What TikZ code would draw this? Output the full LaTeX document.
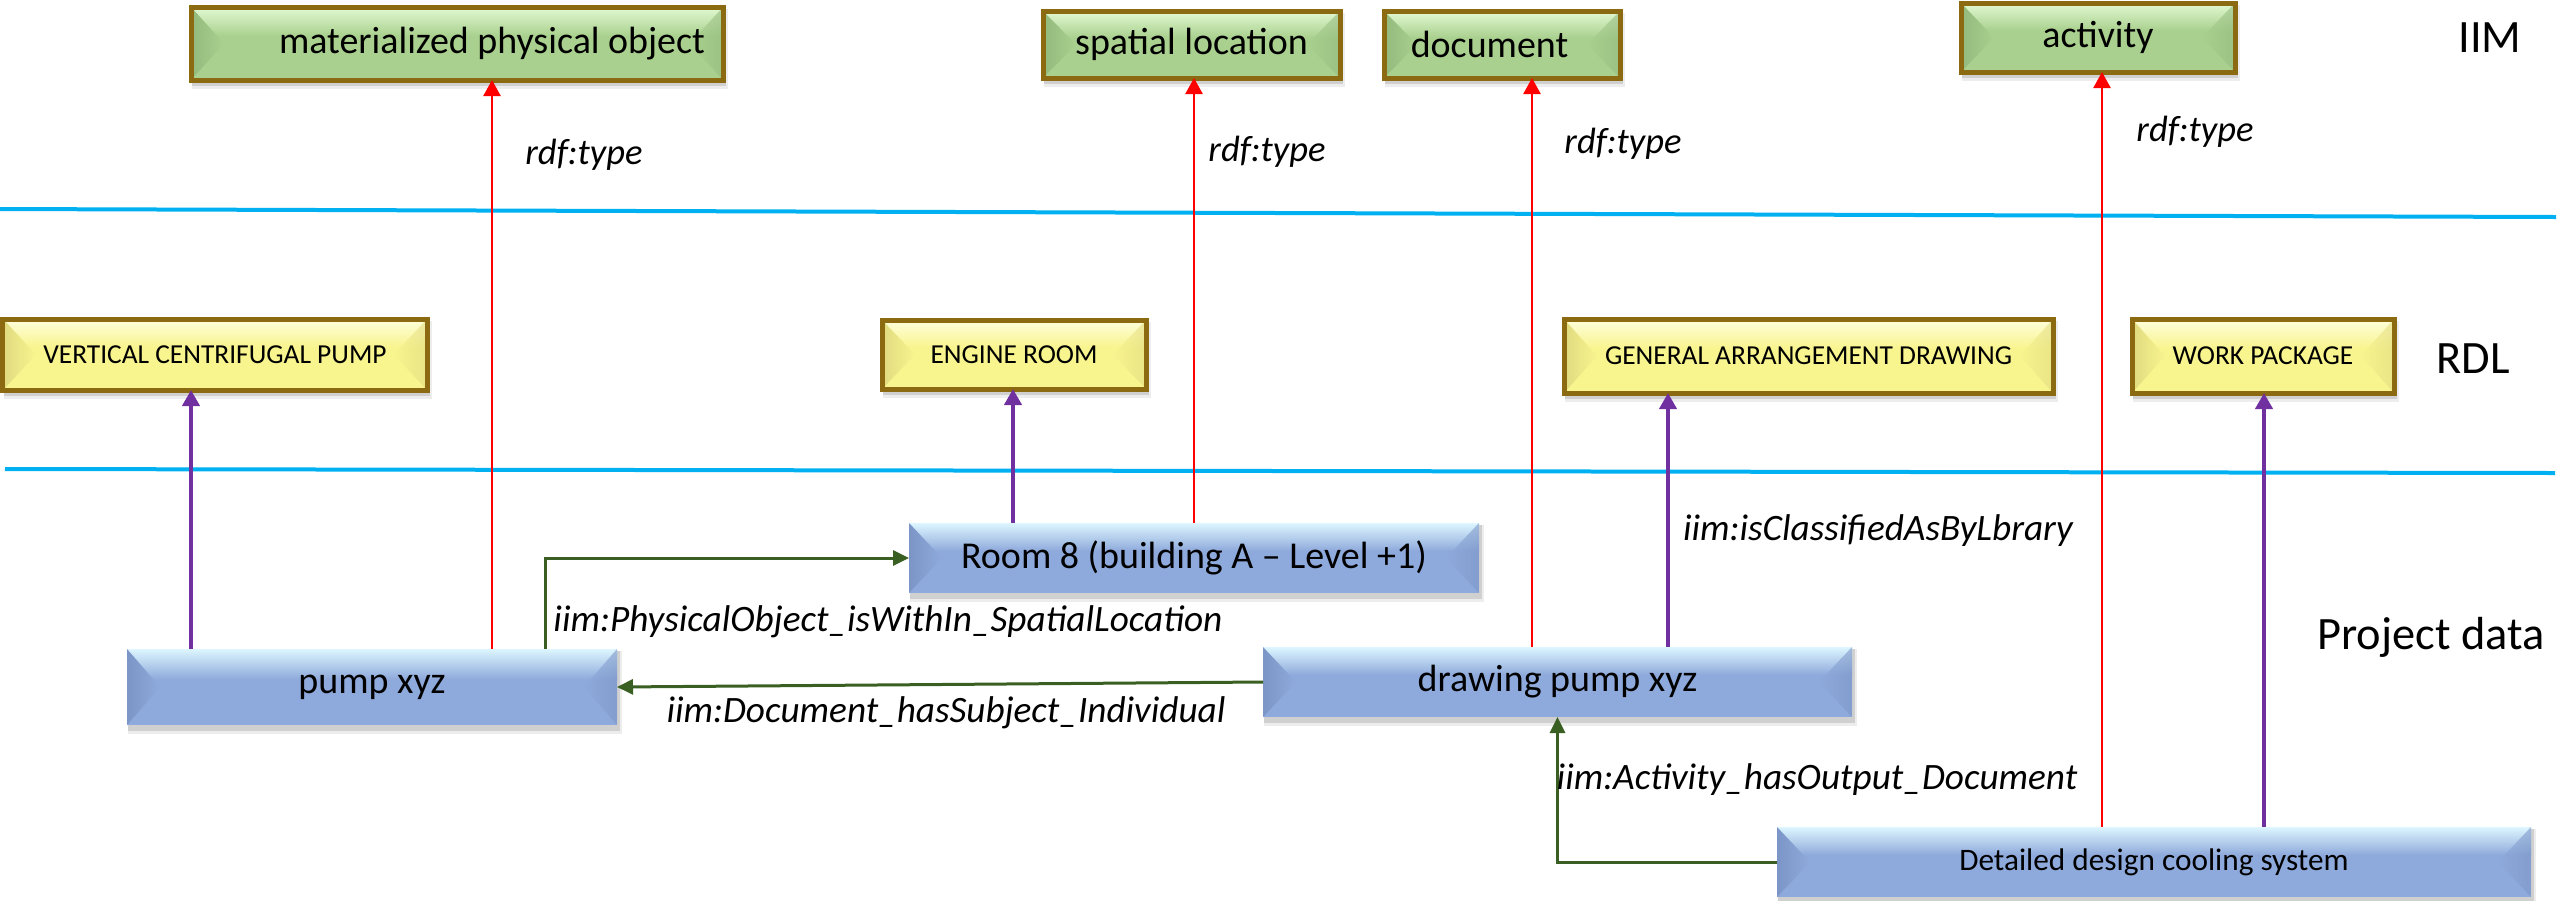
\documentclass[tikz,border=0pt]{standalone}
\usepackage{fontspec}
\setmainfont{Carlito}
\usetikzlibrary{arrows.meta,calc}

\definecolor{sepblue}{HTML}{00B0F0}
\definecolor{relred}{HTML}{FF0000}
\definecolor{relpurple}{HTML}{7030A0}
\definecolor{relgreen}{HTML}{3A5F22}
\definecolor{goldrim}{HTML}{8C6A12}
\definecolor{grnbase}{HTML}{A9D08E}
\definecolor{grnlight}{HTML}{E2F9D2}
\definecolor{grndark}{HTML}{93B97D}
\definecolor{ylwbase}{HTML}{F8F48E}
\definecolor{ylwlight}{HTML}{FFFFDC}
\definecolor{ylwdark}{HTML}{E0DA80}
\definecolor{blubase}{HTML}{8EA9DB}
\definecolor{blulight}{HTML}{DDF6FF}
\definecolor{bludark}{HTML}{7B96C6}

\pgfdeclarelayer{background}
\pgfsetlayers{background,main}

% bevelled face of a box, drawn behind the text node #1
\newcommand\bevelface[4]{%
  \fill[black, opacity=0.07] ([shift={(0.01,-0.02)}]#1.north west) rectangle ([shift={(0.05,-0.09)}]#1.south east);
  \fill[black, opacity=0.12] ([shift={(0.01,-0.02)}]#1.north west) rectangle ([shift={(0.03,-0.06)}]#1.south east);
  \fill[#3] (#1.south west) rectangle (#1.north east);
  \shade[top color=#2, bottom color=#3] (#1.north west) rectangle ($(#1.east)!0.2!(#1.north east)$);
  \shade[left color=#4, right color=#3] (#1.north west) -- ([xshift=0.33cm]#1.west) -- (#1.south west) -- cycle;
  \shade[left color=#3, right color=#4, opacity=0.6] (#1.north east) -- ([xshift=-0.33cm]#1.east) -- (#1.south east) -- cycle;
}
\newcommand\goldrim[1]{%
  \draw[goldrim, line width=0.05cm] (#1.south west) rectangle (#1.north east);
}

\tikzset{
  boxbase/.style={rectangle, inner sep=0pt, outer sep=0pt, text=black},
  classbox/.style={boxbase, font=\fontsize{10.8}{12}\selectfont},
  rdlbox/.style={boxbase, font=\fontsize{7.8}{10}\selectfont},
  databox/.style={boxbase, font=\fontsize{10.8}{12}\selectfont},
  rellabel/.style={inner sep=0pt, font=\fontsize{10.6}{12}\selectfont\itshape},
  layerlabel/.style={inner sep=0pt, font=\fontsize{13.2}{15}\selectfont},
  separator/.style={draw=sepblue, line width=0.04cm},
  typearrow/.style={draw=relred, line width=0.025cm,
    -{Triangle[width=0.17cm,length=0.16cm]}},
  classarrow/.style={draw=relpurple, line width=0.04cm,
    -{Triangle[width=0.17cm,length=0.16cm]}},
  linkarrow/.style={draw=relgreen, line width=0.03cm,
    -{Triangle[width=0.15cm,length=0.16cm]}},
}

\begin{document}
\begin{tikzpicture}
\useasboundingbox (0,0) rectangle (25.6,-9);

% layer separators
\coordinate (s1a) at (0,-2.09);
\coordinate (s1b) at (25.56,-2.17);
\coordinate (s2a) at (0.05,-4.69);
\coordinate (s2b) at (25.55,-4.73);
\draw[separator] (s1a) -- (s1b);
\draw[separator] (s2a) -- (s2b);

% IIM classes
\node[classbox, minimum width=5.32cm, minimum height=0.73cm] (mpo) at (4.57,-0.435) {\hspace*{0.7cm}materialized physical object};
\node[classbox, minimum width=2.97cm, minimum height=0.67cm] (spat) at (11.915,-0.445) {spatial location};
\node[classbox, minimum width=2.36cm, minimum height=0.67cm] (doc) at (15.02,-0.445) {document\hspace*{0.25cm}};
\node[classbox, minimum width=2.74cm, minimum height=0.69cm] (act) at (20.98,-0.375) {activity};

% RDL classes
\node[rdlbox, minimum width=4.24cm, minimum height=0.71cm] (vcp) at (2.15,-3.545) {VERTICAL CENTRIFUGAL PUMP};
\node[rdlbox, minimum width=2.64cm, minimum height=0.69cm] (eng) at (10.14,-3.545) {ENGINE ROOM};
\node[rdlbox, minimum width=4.89cm, minimum height=0.74cm] (gad) at (18.085,-3.56) {GENERAL ARRANGEMENT DRAWING};
\node[rdlbox, minimum width=2.62cm, minimum height=0.74cm] (wp) at (22.63,-3.56) {WORK PACKAGE};

% project data individuals
\node[databox, minimum width=5.70cm, minimum height=0.70cm] (room) at (11.94,-5.58) {Room 8 (building A – Level +1)};
\node[databox, minimum width=4.90cm, minimum height=0.76cm] (pump) at (3.72,-6.87) {pump xyz};
\node[databox, minimum width=5.89cm, minimum height=0.70cm] (drw) at (15.575,-6.82) {drawing pump xyz};
\node[databox, minimum width=7.54cm, minimum height=0.70cm, font=\fontsize{8.9}{10}\selectfont] (det) at (21.54,-8.62) {Detailed design cooling system};

% box faces
\begin{pgfonlayer}{background}
  \foreach \b in {mpo,spat,doc,act} {\bevelface{\b}{grnlight}{grnbase}{grndark}\goldrim{\b}}
  \foreach \b in {vcp,eng,gad,wp} {\bevelface{\b}{ylwlight}{ylwbase}{ylwdark}\goldrim{\b}}
  \foreach \b in {room,pump,drw,det} {\bevelface{\b}{blulight}{blubase}{bludark}}
\end{pgfonlayer}

% rdf:type links
\draw[typearrow] (pump.north -| 4.92,0) -- (mpo.south -| 4.92,0);
\draw[typearrow] (room.north -| 11.94,0) -- (spat.south -| 11.94,0);
\draw[typearrow] (drw.north -| 15.32,0) -- (doc.south -| 15.32,0);
\draw[typearrow] (det.north -| 21.02,0) -- (act.south -| 21.02,0);

% library classification links
\draw[classarrow] (pump.north -| 1.91,0) -- (vcp.south -| 1.91,0);
\draw[classarrow] (room.north -| 10.13,0) -- (eng.south -| 10.13,0);
\draw[classarrow] (drw.north -| 16.68,0) -- (gad.south -| 16.68,0);
\draw[classarrow] (det.north -| 22.64,0) -- (wp.south -| 22.64,0);

% relations between individuals
\draw[linkarrow] (pump.north -| 5.45,0) |- (room.west);
\draw[linkarrow] (drw.west) -- (pump.east);
\draw[linkarrow] (det.west) -| (drw.south);

% relation labels
\node[rellabel, font=\fontsize{10.4}{12}\selectfont\itshape] (t1) at (5.84,-1.55) {rdf:type};
\node[rellabel, font=\fontsize{10.4}{12}\selectfont\itshape] (t2) at (12.67,-1.52) {rdf:type};
\node[rellabel, font=\fontsize{10.4}{12}\selectfont\itshape] (t3) at (16.23,-1.44) {rdf:type};
\node[rellabel, font=\fontsize{10.4}{12}\selectfont\itshape] (t4) at (21.95,-1.32) {rdf:type};
\node[rellabel] (lphys) at (8.88,-6.22) {iim:PhysicalObject\_isWithIn\_SpatialLocation};
\node[rellabel] (lsubj) at (9.46,-7.13) {iim:Document\_hasSubject\_Individual};
\node[rellabel] (lclass) at (18.78,-5.31) {iim:isClassifiedAsByLbrary};
\node[rellabel] (lout) at (18.17,-7.80) {iim:Activity\_hasOutput\_Document};

% layer names
\node[layerlabel] (liim) at (24.90,-0.38) {IIM};
\node[layerlabel] (lrdl) at (24.73,-3.59) {RDL};
\node[layerlabel] (lproj) at (24.31,-6.37) {Project data};
\end{tikzpicture}
\end{document}
